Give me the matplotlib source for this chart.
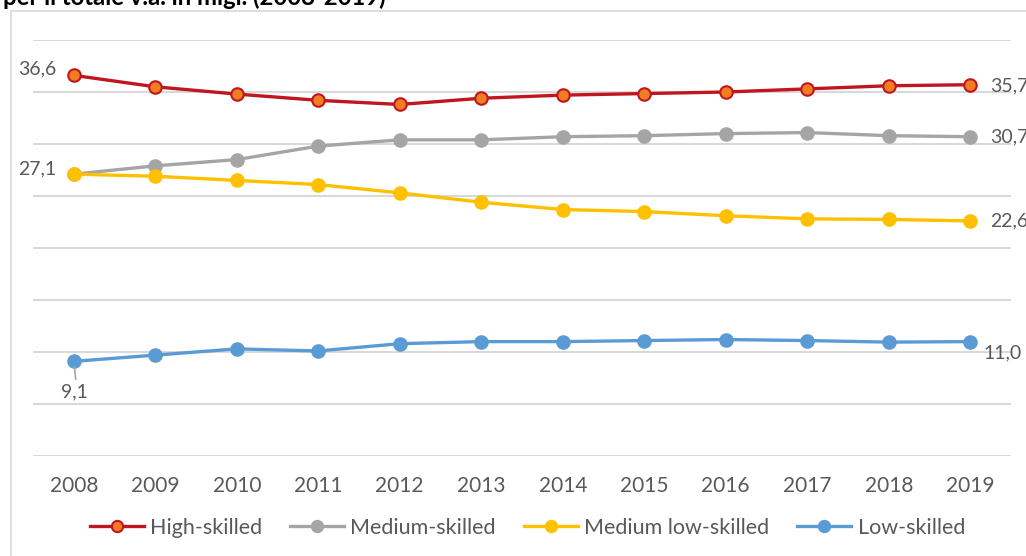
import matplotlib
matplotlib.use("Agg")
import matplotlib.pyplot as plt
from matplotlib.patches import Rectangle

plt.rcParams['font.family'] = ['Lato', 'DejaVu Sans']

years = ['2008', '2009', '2010', '2011', '2012', '2013',
         '2014', '2015', '2016', '2017', '2018', '2019']
high_skilled = [36.6, 35.5, 34.8, 34.2, 33.8, 34.4, 34.7, 34.85, 35.0, 35.3, 35.6, 35.7]
medium_skilled = [27.1, 27.9, 28.5, 29.8, 30.4, 30.4, 30.7, 30.8, 31.0, 31.1, 30.8, 30.7]
medium_low_skilled = [27.1, 26.9, 26.5, 26.1, 25.3, 24.4, 23.7, 23.5, 23.1, 22.8, 22.75, 22.6]
low_skilled = [9.1, 9.7, 10.3, 10.1, 10.8, 11.0, 11.0, 11.1, 11.2, 11.1, 10.95, 11.0]

text_col = '#595959'
grid_col = '#D9D9D9'

fig = plt.figure(figsize=(10.26, 5.56), dpi=100)
ax = fig.add_axes([33/1026, 1 - 456/556, (1011 - 33)/1026, (456 - 40)/556])

# frame around chart area (cut off on right and bottom in the source)
fig.patches.append(Rectangle((11/1026, -0.1), 1.2, 1 - 11/556 + 0.1,
                             transform=fig.transFigure, fill=False,
                             edgecolor=grid_col, linewidth=1.2))

# title, mostly cut off at the top
fig.text(3/1026, 1 - 5/556, 'per il totale v.a. in migl. (2008-2019)',
         fontsize=17.2, fontweight='bold', color='black', va='baseline', ha='left')

x = list(range(len(years)))
series = [
    ('High-skilled', high_skilled, '#C0161F', '#F07D22', '#C0161F'),
    ('Medium-skilled', medium_skilled, '#A5A5A5', '#A5A5A5', '#A5A5A5'),
    ('Medium low-skilled', medium_low_skilled, '#FFC000', '#FFC000', '#FFC000'),
    ('Low-skilled', low_skilled, '#5B9BD5', '#5B9BD5', '#5B9BD5'),
]
for name, vals, lc, fc, ec in series:
    ax.plot(x, vals, color=lc, linewidth=2.4, marker='o', markersize=9,
            markerfacecolor=fc, markeredgecolor=ec, markeredgewidth=1.5,
            label=name, zorder=3)

ax.set_xlim(-0.5, 11.5)
ax.set_ylim(0, 40)
ax.set_yticks(range(0, 41, 5))
ax.yaxis.grid(True, color=grid_col, linewidth=1.5)
ax.set_axisbelow(True)
ax.tick_params(axis='y', left=False, labelleft=False)
ax.set_xticks(x)
ax.set_xticklabels(years)
ax.tick_params(axis='x', bottom=False, labelsize=15, labelcolor=text_col, pad=11)
for s in ax.spines.values():
    s.set_visible(False)
ax.patch.set_alpha(0)

def lab(v, i, dx, dy, ha):
    ax.annotate(f'{v:.1f}'.replace('.', ','), (i, v), xytext=(dx, dy),
                textcoords='offset pixels', ha=ha, va='center',
                fontsize=14, color=text_col)

lab(high_skilled[0], 0, -17, 6, 'right')
lab(medium_skilled[0], 0, -17, 5, 'right')
lab(high_skilled[-1], 11, 20, -1, 'left')
lab(medium_skilled[-1], 11, 20, 0, 'left')
lab(medium_low_skilled[-1], 11, 20, 0, 'left')
lab(low_skilled[-1], 11, 13, -11, 'left')
ax.annotate('9,1', (0, low_skilled[0]), xytext=(1, -31), textcoords='offset pixels',
            ha='center', va='center', fontsize=14, color=text_col)
ax.annotate('', (0, low_skilled[0]), xytext=(2, -18), textcoords='offset pixels',
            arrowprops=dict(arrowstyle='-', color='#A6A6A6', lw=1.2, shrinkA=0, shrinkB=4))

fig.legend(loc='center', bbox_to_anchor=(0.514, 1 - 528/556), ncol=4, frameon=False,
           fontsize=15.5, labelcolor=text_col, handlelength=2.5, handletextpad=0.3,
           columnspacing=1.3, markerscale=0.9)

fig.savefig('out.png', dpi=100)
